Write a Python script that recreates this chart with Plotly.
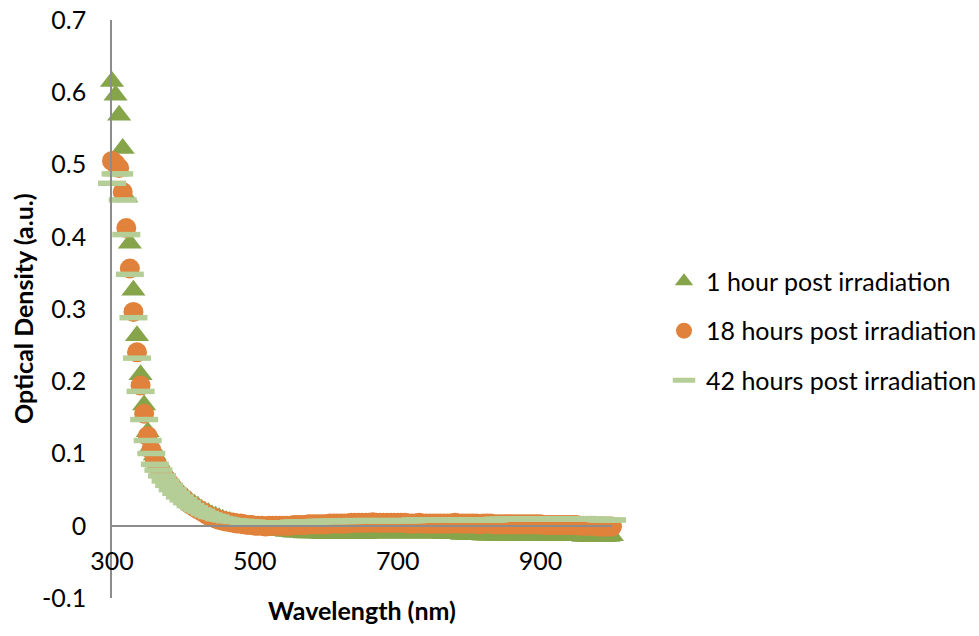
import plotly.graph_objects as go

# ---------------- data ----------------
wavelength_nm = [
    300, 305, 310, 315, 320, 325, 330, 335, 340, 345,
    350, 355, 360, 365, 370, 375, 380, 385, 390, 395,
    400, 405, 410, 415, 420, 425, 430, 435, 440, 445,
    450, 455, 460, 465, 470, 475, 480, 485, 490, 495,
    500, 505, 510, 515, 520, 525, 530, 535, 540, 545,
    550, 555, 560, 565, 570, 575, 580, 585, 590, 595,
    600, 605, 610, 615, 620, 625, 630, 635, 640, 645,
    650, 655, 660, 665, 670, 675, 680, 685, 690, 695,
    700, 705, 710, 715, 720, 725, 730, 735, 740, 745,
    750, 755, 760, 765, 770, 775, 780, 785, 790, 795,
    800, 805, 810, 815, 820, 825, 830, 835, 840, 845,
    850, 855, 860, 865, 870, 875, 880, 885, 890, 895,
    900, 905, 910, 915, 920, 925, 930, 935, 940, 945,
    950, 955, 960, 965, 970, 975, 980, 985, 990, 995,
    1000,
]

od_1h = [
    0.615, 0.596, 0.568, 0.522, 0.455, 0.391, 0.326, 0.263, 0.209, 0.167,
    0.130, 0.110, 0.098, 0.089, 0.080, 0.072, 0.065, 0.058, 0.052, 0.047,
    0.042, 0.038, 0.034, 0.030, 0.027, 0.023, 0.020, 0.018, 0.015, 0.013,
    0.011, 0.009, 0.007, 0.006, 0.004, 0.003, 0.002, 0.001, 0.000, -0.001,
    -0.002, -0.003, -0.004, -0.004, -0.005, -0.006, -0.006, -0.007, -0.007, -0.008,
    -0.008, -0.009, -0.009, -0.009, -0.010, -0.010, -0.010, -0.010, -0.010, -0.011,
    -0.011, -0.011, -0.011, -0.011, -0.011, -0.011, -0.011, -0.011, -0.011, -0.011,
    -0.011, -0.011, -0.010, -0.010, -0.010, -0.010, -0.010, -0.010, -0.010, -0.010,
    -0.010, -0.010, -0.010, -0.010, -0.010, -0.010, -0.010, -0.010, -0.010, -0.010,
    -0.010, -0.010, -0.010, -0.011, -0.011, -0.011, -0.011, -0.011, -0.012, -0.012,
    -0.012, -0.012, -0.012, -0.012, -0.013, -0.013, -0.013, -0.013, -0.013, -0.013,
    -0.013, -0.013, -0.013, -0.013, -0.013, -0.013, -0.013, -0.013, -0.013, -0.013,
    -0.013, -0.013, -0.013, -0.013, -0.013, -0.014, -0.014, -0.014, -0.014, -0.014,
    -0.014, -0.014, -0.015, -0.015, -0.015, -0.015, -0.015, -0.015, -0.015, -0.015,
    -0.014,
]

od_18h = [
    0.505, 0.501, 0.495, 0.462, 0.412, 0.356, 0.296, 0.240, 0.194, 0.155,
    0.124, 0.105, 0.089, 0.081, 0.073, 0.066, 0.059, 0.053, 0.047, 0.042,
    0.038, 0.033, 0.029, 0.026, 0.023, 0.020, 0.017, 0.014, 0.012, 0.010,
    0.008, 0.007, 0.006, 0.005, 0.004, 0.003, 0.003, 0.002, 0.001, 0.001,
    0.000, 0.000, 0.000, -0.001, 0.000, 0.000, 0.000, 0.000, 0.000, 0.000,
    0.000, 0.001, 0.001, 0.001, 0.001, 0.002, 0.002, 0.002, 0.002, 0.002,
    0.002, 0.003, 0.003, 0.003, 0.003, 0.003, 0.003, 0.004, 0.004, 0.004,
    0.004, 0.004, 0.004, 0.005, 0.004, 0.004, 0.004, 0.004, 0.004, 0.004,
    0.004, 0.004, 0.004, 0.003, 0.003, 0.003, 0.004, 0.003, 0.003, 0.003,
    0.003, 0.003, 0.003, 0.003, 0.003, 0.003, 0.004, 0.003, 0.003, 0.003,
    0.003, 0.003, 0.003, 0.002, 0.003, 0.003, 0.003, 0.002, 0.002, 0.002,
    0.002, 0.002, 0.002, 0.002, 0.002, 0.002, 0.002, 0.002, 0.002, 0.002,
    0.002, 0.001, 0.001, 0.001, 0.001, 0.001, 0.001, 0.001, 0.001, 0.001,
    0.001, 0.000, 0.000, 0.000, 0.000, 0.000, -0.001, -0.001, -0.001, -0.001,
    -0.001,
]

od_42h = [
    0.474, 0.487, 0.487, 0.451, 0.403, 0.348, 0.288, 0.232, 0.186, 0.147,
    0.118, 0.100, 0.085, 0.077, 0.069, 0.062, 0.056, 0.050, 0.045, 0.040,
    0.036, 0.032, 0.028, 0.025, 0.022, 0.020, 0.017, 0.015, 0.013, 0.012,
    0.010, 0.009, 0.008, 0.007, 0.007, 0.006, 0.006, 0.005, 0.005, 0.005,
    0.004, 0.004, 0.004, 0.004, 0.004, 0.004, 0.004, 0.004, 0.004, 0.004,
    0.004, 0.005, 0.005, 0.005, 0.005, 0.005, 0.005, 0.005, 0.006, 0.006,
    0.006, 0.006, 0.006, 0.006, 0.006, 0.006, 0.006, 0.007, 0.007, 0.007,
    0.007, 0.007, 0.007, 0.007, 0.007, 0.007, 0.007, 0.007, 0.007, 0.007,
    0.007, 0.007, 0.007, 0.007, 0.007, 0.008, 0.008, 0.008, 0.008, 0.008,
    0.008, 0.008, 0.008, 0.008, 0.008, 0.008, 0.008, 0.008, 0.008, 0.008,
    0.008, 0.008, 0.008, 0.008, 0.008, 0.008, 0.008, 0.008, 0.009, 0.009,
    0.009, 0.009, 0.009, 0.009, 0.009, 0.009, 0.009, 0.009, 0.009, 0.009,
    0.009, 0.009, 0.009, 0.009, 0.009, 0.009, 0.009, 0.009, 0.009, 0.009,
    0.009, 0.009, 0.009, 0.009, 0.009, 0.009, 0.009, 0.008, 0.008, 0.008,
    0.008,
]

series_names = [
    "1 hour post irradiation",
    "18 hours post irradiation",
    "42 hours post irradiation",
]

x_tick_vals = [300, 500, 700, 900]
y_tick_vals = [-0.1, 0, 0.1, 0.2, 0.3, 0.4, 0.5, 0.6, 0.7]
y_tick_text = ["-0.1", "0", "0.1", "0.2", "0.3", "0.4", "0.5", "0.6", "0.7"]

x_title = "Wavelength (nm)"
y_title = "Optical Density (a.u.)"

# ---------------- style ----------------
GREEN = "#86A44A"
ORANGE = "#E0823B"
LIGHT_GREEN = "#B5CE97"
AXIS_GREY = "#8C8C8C"
FONT = "Lato"
FS = 25
LEG_FS = 25

fig = go.Figure()

fig.add_trace(go.Scatter(
    x=wavelength_nm, y=od_1h, mode="markers", name=series_names[0],
    legendgroup="g1", cliponaxis=False,
    marker=dict(symbol="triangle-up", size=21, color=GREEN, line=dict(width=0)),
))
fig.add_trace(go.Scatter(
    x=wavelength_nm, y=od_18h, mode="markers", name=series_names[1],
    legendgroup="g2", cliponaxis=False,
    marker=dict(symbol="circle", size=20, color=ORANGE, line=dict(width=0)),
))
fig.add_trace(go.Scatter(
    x=wavelength_nm, y=od_42h, mode="markers", name=series_names[2],
    legendgroup="g3", cliponaxis=False,
    marker=dict(symbol="line-ew", size=20, color=LIGHT_GREEN,
                line=dict(width=5.5, color=LIGHT_GREEN)),
))

fig.update_layout(
    width=979, height=636,
    margin=dict(l=112, r=367, t=20, b=38, autoexpand=False),
    paper_bgcolor="white", plot_bgcolor="white",
    font=dict(family=FONT, size=FS, color="black"),
    showlegend=True,
    legend=dict(
        x=1.1, xanchor="left", y=0.462, yanchor="middle",
        font=dict(family=FONT, size=LEG_FS, color="black"),
        tracegroupgap=14, bgcolor="rgba(0,0,0,0)", itemwidth=34,
    ),
    xaxis=dict(
        range=[300, 1000], tickvals=x_tick_vals,
        showline=True, linecolor=AXIS_GREY, linewidth=1.5,
        anchor="free", position=0.125, automargin=False,
        showgrid=False, zeroline=False, ticks="",
        ticklabelstandoff=13, ticklabeloverflow="allow",
    ),
    yaxis=dict(
        range=[-0.1, 0.7], tickvals=y_tick_vals, ticktext=y_tick_text,
        showline=True, linecolor=AXIS_GREY, linewidth=1.5, automargin=False,
        showgrid=False, zeroline=False, ticks="",
        ticklabelstandoff=19, ticklabeloverflow="allow",
    ),
    annotations=[
        dict(text=x_title, x=0.5, y=0, xref="paper", yref="paper",
             xanchor="center", yanchor="middle", yshift=-12, showarrow=False,
             font=dict(family=FONT, size=FS, color="black", weight="bold")),
        dict(text=y_title, x=0, y=0.5, xref="paper", yref="paper",
             xanchor="center", yanchor="middle", xshift=-89, textangle=-90,
             showarrow=False,
             font=dict(family=FONT, size=FS, color="black", weight="bold")),
    ],
)

# remove the browser's default 8px body margin so the figure fills the window
fig.write_html(
    "out.html",
    config={"displayModeBar": False},
    post_script="document.body.style.margin='0px';",
)
